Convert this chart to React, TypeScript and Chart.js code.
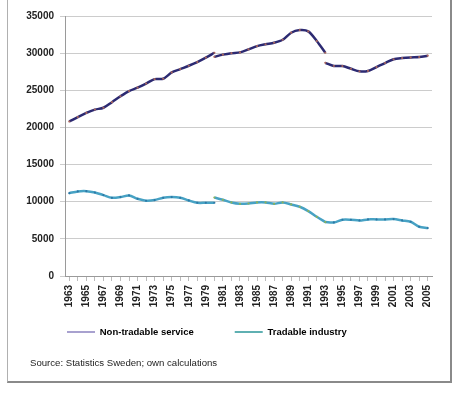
import React, { useEffect, useRef } from "react";
import { Chart, registerables } from "chart.js";

Chart.register(...registerables);

const years = [
  "1963", "1964", "1965", "1966", "1967", "1968", "1969", "1970", "1971", "1972",
  "1973", "1974", "1975", "1976", "1977", "1978", "1979", "1980", "1981", "1982",
  "1983", "1984", "1985", "1986", "1987", "1988", "1989", "1990", "1991", "1992",
  "1993", "1994", "1995", "1996", "1997", "1998", "1999", "2000", "2001", "2002",
  "2003", "2004", "2005",
];

// Non-tradable service, three chained segments
const nonTradableA = [20800, 21400, 21950, 22400, 22650, 23400, 24200, 24900, 25350, 25900, 26500, 26550, 27400, 27850, 28300, 28800, 29400, 30050]; // 1963-1980
const nonTradableB = [29500, 29800, 30000, 30100, 30500, 30950, 31200, 31400, 31800, 32750, 33100, 32930, 31630, 30050]; // 1980-1993
const nonTradableC = [28700, 28270, 28270, 27900, 27550, 27600, 28130, 28670, 29170, 29340, 29430, 29470, 29660]; // 1993-2005

// Tradable industry, three chained segments
const tradableA = [11150, 11380, 11420, 11240, 10890, 10530, 10620, 10840, 10390, 10130, 10220, 10530, 10620, 10530, 10170, 9860, 9860, 9860]; // 1963-1980
const tradableB = [10570, 10260, 9900, 9720, 9760, 9900, 9900, 9720, 9900, 9630, 9320, 8740, 7970, 7260]; // 1980-1993
const tradableC = [7260, 7210, 7570, 7570, 7480, 7620, 7620, 7620, 7660, 7480, 7300, 6630, 6450]; // 1993-2005

const segmentStarts = { A: "1963", B: "1980", C: "1993" };
const yTicks = [0, 5000, 10000, 15000, 20000, 25000, 30000, 35000];
const legendLabels = ["Non-tradable service", "Tradable industry"];
const sourceText = "Source: Statistics Sweden; own calculations";

function place(values: number[], startYear: string) {
  const start = years.indexOf(startYear);
  return years.map((_, i) => {
    const k = i - start;
    return k >= 0 && k < values.length ? values[k] : null;
  });
}

const NAVY = "#2c2a72";
const NAVY_PT = "#a8665e";
const TEAL = "#47a2c4";
const TEAL_PT = "#2d78a6";
const GREEN_PT = "#8db35a";
const FONT = "'Liberation Sans', Arial, sans-serif";

// Place the legend row and the source line where the original has them
const placeBottomBoxes = {
  id: "placeBottomBoxes",
  afterLayout(chart: any) {
    const legend = chart.legend;
    if (legend) {
      const h = legend.bottom - legend.top;
      legend.top = 286.25;
      legend.bottom = legend.top + h;
    }
    const title = chart.titleBlock;
    if (title) {
      const h = title.bottom - title.top;
      title.top = 346.5;
      title.bottom = title.top + h;
      title.left = 30;
    }
  },
};

export default function App() {
  const ref = useRef<HTMLCanvasElement | null>(null);

  useEffect(() => {
    if (!ref.current) return;
    const mk = (data: (number | null)[], color: string, ptColor: string) => ({
      data,
      borderColor: color,
      backgroundColor: color,
      borderWidth: 2.5,
      pointRadius: 1.1,
      pointBorderWidth: 0,
      pointBackgroundColor: ptColor,
      tension: 0.3,
      spanGaps: false,
    });
    const chart = new Chart(ref.current, {
      type: "line",
      data: {
        labels: years,
        datasets: [
          mk(place(nonTradableA, segmentStarts.A), NAVY, NAVY_PT),
          mk(place(nonTradableB, segmentStarts.B), NAVY, NAVY_PT),
          mk(place(nonTradableC, segmentStarts.C), NAVY, NAVY_PT),
          mk(place(tradableA, segmentStarts.A), TEAL, TEAL_PT),
          mk(place(tradableB, segmentStarts.B), TEAL, GREEN_PT),
          mk(place(tradableC, segmentStarts.C), TEAL, TEAL_PT),
        ],
      },
      plugins: [placeBottomBoxes],
      options: {
        animation: false,
        responsive: false,
        maintainAspectRatio: false,
        layout: { padding: { left: 26, right: 32, top: 16, bottom: 2 } },
        font: { family: FONT },
        scales: {
          x: {
            type: "category",
            offset: true,
            afterFit: (s: any) => { s.height = 34; },
            grid: { drawOnChartArea: false, drawTicks: true, tickLength: 5, color: "#bbbbbb" },
            border: { display: true, color: "#9a9a9a" },
            ticks: {
              autoSkip: false,
              minRotation: 90,
              maxRotation: 90,
              padding: 4,
              color: "#222222",
              font: { family: FONT, size: 10, weight: "bold" },
              callback: (_v: any, i: number) => (i % 2 === 0 ? years[i] : ""),
            },
          },
          y: {
            min: 0,
            max: 35000,
            afterFit: (s: any) => { s.width = 39; },
            afterBuildTicks: (s: any) => { s.ticks = yTicks.map((v) => ({ value: v })); },
            grid: { color: "#cccccc", tickLength: 5, drawTicks: true },
            border: { display: true, color: "#9a9a9a" },
            ticks: {
              padding: 6,
              color: "#222222",
              font: { family: FONT, size: 10, weight: "bold" },
              callback: (v: any) => String(v),
            },
          },
        },
        plugins: {
          legend: {
            position: "bottom",
            align: "start",
            labels: {
              boxWidth: 28,
              boxHeight: 2,
              padding: 41,
              color: "#222222",
              font: { family: FONT, size: 9.5, weight: "bold" },
              generateLabels: () => [
                { text: legendLabels[0], fillStyle: "#a8a1cf", strokeStyle: "#a8a1cf", lineWidth: 0, datasetIndex: 0, hidden: false },
                { text: legendLabels[1], fillStyle: "#5fb0b2", strokeStyle: "#5fb0b2", lineWidth: 0, datasetIndex: 3, hidden: false },
              ],
            },
          },
          title: {
            display: true,
            text: sourceText,
            position: "bottom",
            align: "start",
            color: "#222222",
            padding: { top: 10.5, bottom: 0 },
            font: { family: FONT, size: 9.6, weight: "normal", lineHeight: 1.25 },
          },
          tooltip: { enabled: false },
        },
      },
    } as any);
    return () => chart.destroy();
  }, []);

  return (
    <div style={{ position: "fixed", left: 0, top: 0, width: 464, height: 395, background: "#fff", overflow: "hidden" }}>
      <div
        style={{
          position: "absolute",
          left: 7,
          top: -10,
          width: 445,
          height: 393,
          boxSizing: "border-box",
          borderLeft: "1px solid #b0b0b0",
          borderRight: "2px solid #8a8a8a",
          borderBottom: "2px solid #8a8a8a",
        }}
      />
      <canvas ref={ref} width={464} height={395} style={{ position: "absolute", left: 0, top: 0, width: 464, height: 395 }} />
    </div>
  );
}
